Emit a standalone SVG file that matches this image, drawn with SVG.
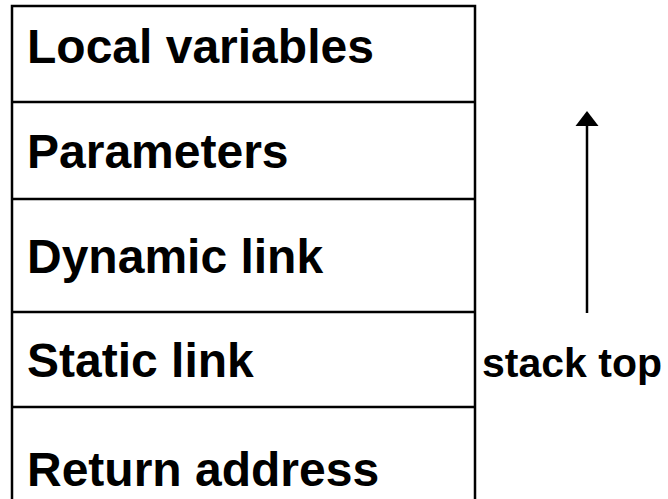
<svg xmlns="http://www.w3.org/2000/svg" width="668" height="499" viewBox="0 0 668 499">
  <style>
    .frame { fill: none; stroke: #000; stroke-width: 2.5; }
    .label { font-family: "Liberation Sans", Arial, sans-serif; font-weight: bold; font-size: 48px; fill: #000; }
    .side { font-family: "Liberation Sans", Arial, sans-serif; font-weight: bold; font-size: 41px; fill: #000; }
  </style>

  <!-- stack frame outline: open at the bottom -->
  <path class="frame" d="M12,510 L12,6 L475,6 L475,510"/>

  <g id="local-variables">
    <text class="label" x="27" y="63">Local variables</text>
  </g>
  <g id="parameters">
    <line class="frame" x1="12" y1="102" x2="475" y2="102"/>
    <text class="label" x="27" y="168">Parameters</text>
  </g>
  <g id="dynamic-link">
    <line class="frame" x1="12" y1="199" x2="475" y2="199"/>
    <text class="label" x="27" y="273">Dynamic link</text>
  </g>
  <g id="static-link">
    <line class="frame" x1="12" y1="312" x2="475" y2="312"/>
    <text class="label" x="27" y="377">Static link</text>
  </g>
  <g id="return-address">
    <line class="frame" x1="12" y1="407" x2="475" y2="407"/>
    <text class="label" x="27" y="486">Return address</text>
  </g>

  <g id="stack-top">
    <text class="side" x="482" y="377">stack top</text>
  </g>

  <g id="connectors">
    <line x1="587" y1="313" x2="587" y2="125" stroke="#000" stroke-width="2.5"/>
    <path d="M587,111 L598.5,126 L575.5,126 z" fill="#000"/>
  </g>
</svg>
